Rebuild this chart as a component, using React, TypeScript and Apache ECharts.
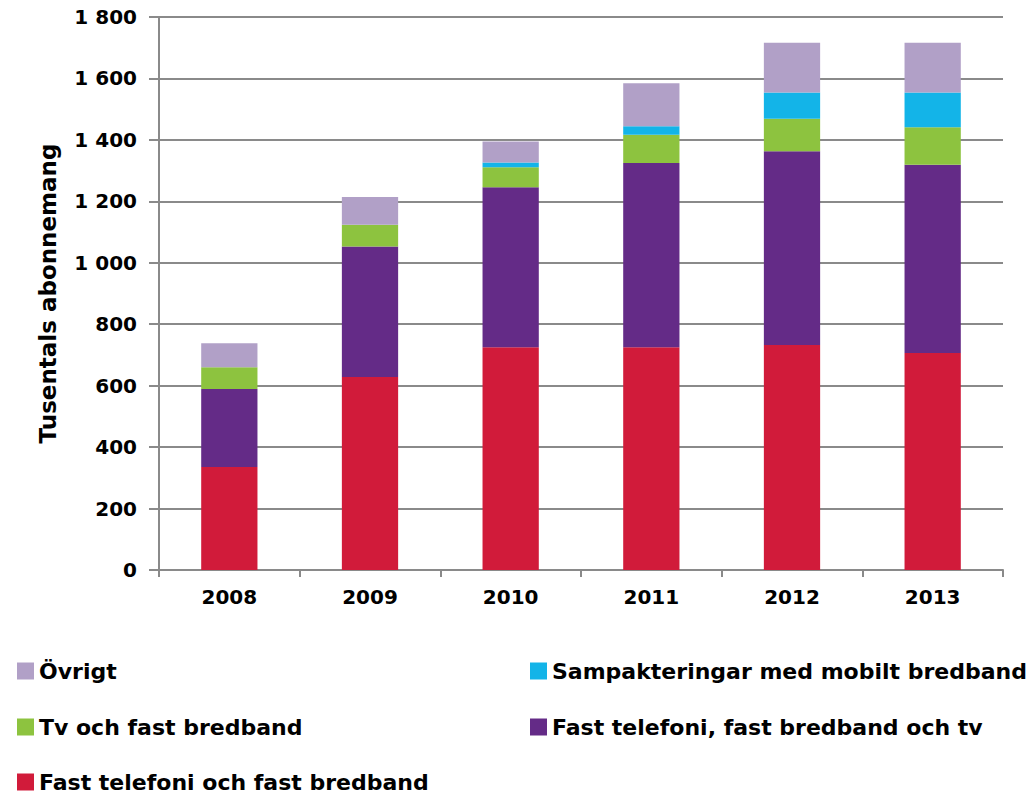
import React, { useEffect, useRef } from "react";
import * as echarts from "echarts";

// Years on the category axis
const years = ["2008", "2009", "2010", "2011", "2012", "2013"];

// Subscriptions per bundle type, thousands
const fastTelefoniBredband = [335, 628, 725, 725, 732, 706];
const fastTelefoniBredbandTv = [254, 425, 521, 600, 631, 613];
const tvBredband = [71, 71, 65, 92, 106, 122];
const mobiltBredband = [0, 0, 15, 27, 85, 113];
const ovrigt = [78, 90, 69, 140, 162, 162];

const seriesNames = {
  red: "Fast telefoni och fast bredband",
  purple: "Fast telefoni, fast bredband och tv",
  green: "Tv och fast bredband",
  cyan: "Sampakteringar med mobilt bredband",
  lavender: "Övrigt",
};

const yTicks = { min: 0, max: 1800, interval: 200 };

const FONT = "'DejaVu Sans', Verdana, sans-serif";

// Legend layout: two columns, three rows
const legendCells: { name: string; left: number; top: number }[] = [
  { name: seriesNames.lavender, left: 17, top: 660 },
  { name: seriesNames.cyan, left: 530, top: 660 },
  { name: seriesNames.green, left: 17, top: 716 },
  { name: seriesNames.purple, left: 530, top: 716 },
  { name: seriesNames.red, left: 17, top: 771 },
];

export default function App() {
  const ref = useRef<HTMLDivElement>(null);

  useEffect(() => {
    if (!ref.current) return;
    const chart = echarts.init(ref.current, undefined, { renderer: "svg" });

    const bar = (name: string, data: number[], color: string) => ({
      name,
      type: "bar",
      stack: "total",
      data,
      barWidth: "40%",
      itemStyle: { color },
    });

    const legendText = {
      fontFamily: FONT,
      fontWeight: "bold",
      fontSize: 22,
      color: "#000",
      lineHeight: 22,
    };

    chart.setOption({
      animation: false,
      textStyle: { fontFamily: FONT },
      grid: { left: 159, right: 32, top: 17, bottom: 225, containLabel: false },
      legend: legendCells.map((c) => ({
        left: c.left,
        top: c.top,
        padding: 0,
        itemWidth: 17,
        itemHeight: 17,
        icon: "rect",
        textStyle: legendText,
        data: [c.name],
      })),
      xAxis: {
        type: "category",
        data: years,
        axisLine: { lineStyle: { color: "#8a8a8a", width: 2 } },
        axisTick: { show: true, length: 7, lineStyle: { color: "#8a8a8a", width: 2 } },
        axisLabel: {
          margin: 17,
          fontFamily: FONT,
          fontWeight: "bold",
          fontSize: 20,
          color: "#000",
        },
      },
      yAxis: {
        type: "value",
        min: yTicks.min,
        max: yTicks.max,
        interval: yTicks.interval,
        name: "Tusentals abonnemang",
        nameLocation: "middle",
        nameRotate: 90,
        nameGap: 100,
        nameTextStyle: {
          fontFamily: FONT,
          fontWeight: "bold",
          fontSize: 23,
          color: "#000",
        },
        axisLine: { show: true, lineStyle: { color: "#8a8a8a", width: 2 } },
        axisTick: { show: true, length: 10, lineStyle: { color: "#8a8a8a", width: 2 } },
        splitLine: { lineStyle: { color: "#8a8a8a", width: 2 } },
        axisLabel: {
          margin: 22,
          fontFamily: FONT,
          fontWeight: "bold",
          fontSize: 20,
          color: "#000",
          formatter: (v: number) =>
            String(v).replace(/\B(?=(\d{3})+(?!\d))/g, " "),
        },
      },
      series: [
        bar(seriesNames.red, fastTelefoniBredband, "#d11b3a"),
        bar(seriesNames.purple, fastTelefoniBredbandTv, "#642b87"),
        bar(seriesNames.green, tvBredband, "#8dc33f"),
        bar(seriesNames.cyan, mobiltBredband, "#13b4e8"),
        bar(seriesNames.lavender, ovrigt, "#b1a0c7"),
      ],
    });

    return () => chart.dispose();
  }, []);

  return (
    <div
      ref={ref}
      style={{ position: "absolute", left: 0, top: 0, width: 1035, height: 795, background: "#fff" }}
    />
  );
}
